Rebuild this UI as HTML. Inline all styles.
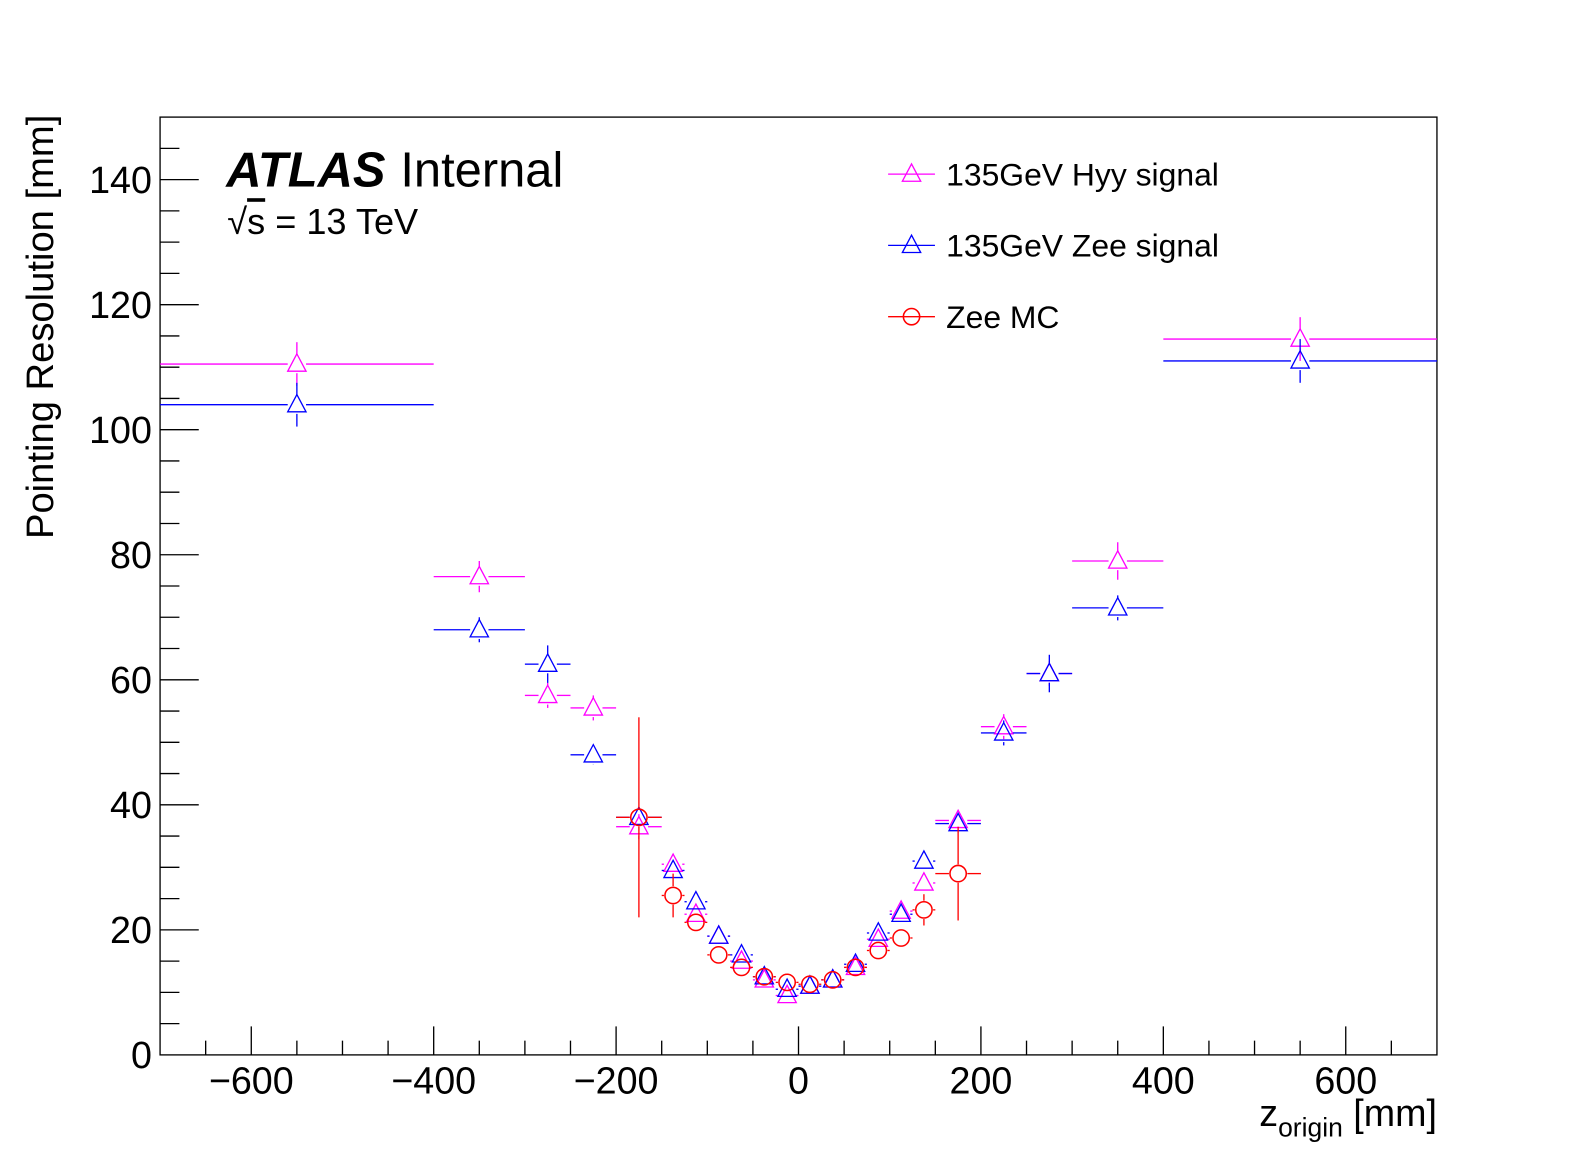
<!DOCTYPE html>
<html><head><meta charset="utf-8"><style>
body{margin:0;background:#fff;}
svg{display:block;font-family:"Liberation Sans",sans-serif;}
</style></head><body>
<svg id="c" width="1596" height="1172" viewBox="0 0 1567 1151" xmlns="http://www.w3.org/2000/svg">
<rect width="1567" height="1151" fill="#fff"/>
<g id="axes"></g>
<g id="marks"></g>
<text x="222" y="183" font-size="48" font-weight="bold" font-style="italic">ATLAS</text>
<text x="393" y="183" font-size="48">Internal</text>
<text x="223" y="230" font-size="35.5"><tspan>√</tspan><tspan text-decoration="overline">s</tspan> = 13 TeV</text>
<text transform="translate(52,321) rotate(-90)" text-anchor="middle" font-size="37.5">Pointing Resolution [mm]</text>
<text x="1411" y="1106" text-anchor="end" font-size="37">z<tspan font-size="26" dy="10">origin</tspan><tspan dy="-10"> [mm]</tspan></text>
<g id="legend"></g>
</svg>
<script>
const categories=[-550,-350,-275,-225,-175,-137.5,-112.5,-87.5,-62.5,-37.5,-12.5,12.5,37.5,62.5,87.5,112.5,137.5,175,225,275,350,550];
const binHalf=[150,50,25,25,25,12.5,12.5,12.5,12.5,12.5,12.5,12.5,12.5,12.5,12.5,12.5,12.5,25,25,25,50,150];
const hyyValues=[110.5,76.5,57.5,55.5,36.5,30.5,22.5,19,15,12,9.5,11,12,14,18.5,23,27.5,37.5,52.5,61,79,114.5];
const hyyErr=[3.5,2.5,2,2,2,1,1,0.8,0.7,0.6,0.5,0.5,0.6,0.7,0.8,1,1,1.5,2,2,3,3.5];
const zeeValues=[104,68,62.5,48,38,29.5,24.5,19,16,12.5,10.5,11,12,14.5,19.5,22.5,31,37,51.5,61,71.5,111];
const zeeErr=[3.5,2,3,1.5,1.5,1,1,0.8,0.7,0.6,0.5,0.5,0.6,0.7,0.8,1,1,1.5,2,3,2,3.5];
const mcCats=[-175,-137.5,-112.5,-87.5,-62.5,-37.5,-12.5,12.5,37.5,62.5,87.5,112.5,137.5,175];
const mcHalf=[25,12.5,12.5,12.5,12.5,12.5,12.5,12.5,12.5,12.5,12.5,12.5,12.5,25];
const mcValues=[38,25.5,21.2,16,14,12.5,11.6,11.3,12,14,16.7,18.7,23.2,29];
const mcErr=[16,3.5,1.2,0.6,0.5,0.4,0.4,0.4,0.4,0.5,0.8,0.8,2.5,7.5];
const xTicks=[-600,-400,-200,0,200,400,600];
const yTicks=[0,20,40,60,80,100,120,140];

const X0=157,X1=1411,Y0=1036,Y1=115;
const xs=v=>X0+(v+700)/1400*(X1-X0);
const ys=v=>Y0-v/150*(Y0-Y1);
const NS="http://www.w3.org/2000/svg";
function mk(parent,tag,attrs){const e=document.createElementNS(NS,tag);for(const k in attrs)e.setAttribute(k,attrs[k]);parent.appendChild(e);return e;}
const ax=document.getElementById('axes');
let fr=mk(ax,'rect',{x:X0,y:Y1,width:X1-X0,height:Y0-Y1,fill:'none',stroke:'#000','stroke-width':1.3});


for(let v=-650;v<=650;v+=50){const maj=v%200===0;const l=mk(ax,'line',{x1:xs(v),x2:xs(v),y1:Y0,y2:Y0-(maj?28:14),stroke:'#000','stroke-width':1.3});

}
for(let v=5;v<150;v+=5){const maj=v%20===0;const l=mk(ax,'line',{x1:X0,x2:X0+(maj?38:19),y1:ys(v),y2:ys(v),stroke:'#000','stroke-width':1.3});

}
xTicks.forEach(v=>{const t=mk(ax,'text',{x:xs(v),y:1074,'text-anchor':'middle','font-size':37});t.textContent=String(v).replace('-','\u2212');

});
yTicks.forEach(v=>{const t=mk(ax,'text',{x:149,y:ys(v)+13,'text-anchor':'end','font-size':37});t.textContent=v;

});

const mg=document.getElementById('marks');
function marker(g,type,cx,cy,col){
  if(type==='tri'){const p=mk(g,'polygon',{points:`${cx},${cy-10} ${cx-9},${cy+7} ${cx+9},${cy+7}`,fill:'none',stroke:col,'stroke-width':1.3});
  
  }
  else{const c=mk(g,'circle',{cx:cx,cy:cy,r:8,fill:'none',stroke:col,'stroke-width':1.5});
  
  }
}
function series(name,cats,half,vals,errs,col,type){
  const g=mk(mg,'g',{});
  
  
  cats.forEach((c,i)=>{
    const cx=xs(c),cy=ys(vals[i]),gap=9;
    const xl=xs(c-half[i]),xr=xs(c+half[i]);
    const yt=ys(vals[i]+errs[i]),yb=ys(vals[i]-errs[i]);
    const segs=[];
    if(cx-gap>xl)segs.push([xl,cy,cx-gap,cy]);
    if(xr>cx+gap)segs.push([cx+gap,cy,xr,cy]);
    if(yt<cy-gap)segs.push([cx,yt,cx,cy-gap]);
    if(yb>cy+gap)segs.push([cx,cy+gap,cx,yb]);
    segs.forEach(s=>{const l=mk(g,'line',{x1:s[0],y1:s[1],x2:s[2],y2:s[3],stroke:col,'stroke-width':1.3});
    
    });
    marker(g,type,cx,cy,col);
  });
}
series('series-hyy',categories,binHalf,hyyValues,hyyErr,'#ff00ff','tri');
series('series-zee-signal',categories,binHalf,zeeValues,zeeErr,'#0000ff','tri');
series('series-zee-mc',mcCats,mcHalf,mcValues,mcErr,'#ff0000','circ');

const lg=document.getElementById('legend');
[['135GeV Hyy signal','#ff00ff','tri',171],['135GeV Zee signal','#0000ff','tri',241],['Zee MC','#ff0000','circ',311]].forEach(e=>{
  const g=mk(lg,'g',{});
  
  
  mk(g,'line',{x1:872,x2:918,y1:e[3],y2:e[3],stroke:e[1],'stroke-width':1.3});
  marker(g,e[2],895,e[3],e[1]);
  const t=mk(g,'text',{x:929,y:e[3]+11,'font-size':31.3});t.textContent=e[0];
});
</script>
</body></html>
